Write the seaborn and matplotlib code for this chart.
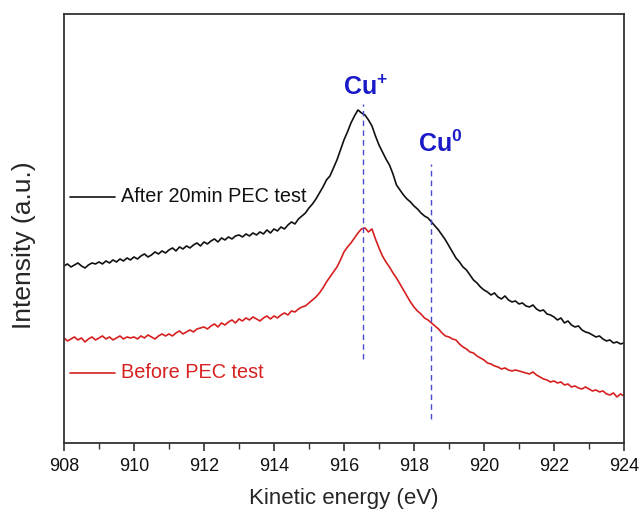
import numpy as np
import pandas as pd
import matplotlib
matplotlib.use("Agg")
import matplotlib.pyplot as plt
import seaborn as sns

# Cu LMM Auger spectra, kinetic energy 908-924 eV in 0.1 eV steps
energy = np.round(np.arange(908.0, 924.01, 0.1), 1)

after_pec = [
    176, 178, 175, 177, 179, 176, 174, 177, 179, 178,   # 908
    180, 178, 181, 179, 182, 180, 183, 181, 184, 182,   # 909
    185, 183, 186, 188, 185, 187, 190, 188, 191, 189,   # 910
    192, 194, 191, 195, 193, 196, 194, 197, 199, 196,   # 911
    200, 198, 201, 203, 200, 204, 202, 205, 203, 206,   # 912
    207, 205, 208, 206, 209, 207, 210, 208, 212, 209,   # 913
    213, 211, 215, 213, 217, 220, 218, 223, 226, 229,   # 914
    234, 238, 243, 249, 255, 262, 266, 274, 282, 292,   # 915
    302, 310, 319, 326, 332, 329, 327, 322, 316, 306,   # 916
    297, 290, 283, 277, 268, 257, 252, 247, 243, 240,   # 917
    236, 233, 229, 226, 224, 220, 216, 212, 207, 202,   # 918
    196, 190, 184, 180, 175, 172, 167, 162, 159, 155,   # 919
    152, 150, 147, 149, 145, 143, 146, 142, 140, 141,   # 920
    138, 139, 136, 135, 137, 133, 131, 132, 128, 127,   # 921
    125, 122, 124, 119, 121, 117, 115, 116, 112, 110,   # 922
    109, 107, 105, 106, 103, 101, 102, 99, 100, 98,     # 923
    99,                                                 # 924
]

before_pec = [
    104, 101, 103, 105, 102, 104, 100, 103, 105, 102,   # 908
    104, 106, 103, 105, 102, 104, 106, 103, 105, 104,   # 909
    105, 103, 106, 104, 107, 105, 103, 106, 108, 106,   # 910
    108, 106, 109, 111, 108, 110, 112, 110, 113, 114,   # 911
    115, 113, 116, 118, 115, 119, 117, 120, 122, 119,   # 912
    123, 121, 124, 122, 125, 123, 121, 124, 126, 123,   # 913
    126, 124, 127, 129, 127, 131, 130, 133, 135, 136,   # 914
    139, 142, 145, 149, 154, 160, 165, 170, 175, 182,   # 915
    190, 195, 199, 204, 209, 213, 214, 210, 213, 203,   # 916
    194, 186, 180, 175, 169, 164, 158, 152, 146, 140,   # 917
    135, 131, 128, 124, 122, 119, 116, 113, 109, 106,   # 918
    105, 103, 102, 98, 95, 93, 90, 89, 86, 84,          # 919
    82, 79, 78, 76, 75, 73, 74, 72, 71, 72,             # 920
    71, 70, 69, 68, 70, 67, 65, 63, 62, 60,             # 921
    61, 59, 60, 57, 58, 55, 56, 54, 53, 55,             # 922
    53, 51, 52, 50, 51, 48, 47, 49, 45, 48,             # 923
    46,                                                 # 924
]

series_labels = ["After 20min PEC test", "Before PEC test"]
series_colors = ["#111111", "#d62020"]

peak_names = [r"$\mathbf{Cu^{+}}$", r"$\mathbf{Cu^{0}}$"]
peak_positions = [916.55, 918.5]

x_ticks = [908, 910, 912, 914, 916, 918, 920, 922, 924]

sns.set_theme(style="ticks")
plt.rcParams["font.family"] = ["Liberation Sans", "DejaVu Sans"]
plt.rcParams["mathtext.fontset"] = "custom"
plt.rcParams["mathtext.rm"] = "Liberation Sans"
plt.rcParams["mathtext.bf"] = "Liberation Sans:bold"

df = pd.concat([
    pd.DataFrame({"energy": energy, "intensity": after_pec, "sample": series_labels[0]}),
    pd.DataFrame({"energy": energy, "intensity": before_pec, "sample": series_labels[1]}),
])

fig = plt.figure(figsize=(6.41, 5.13), dpi=100)
ax = fig.add_axes([0.0998, 0.1365, 0.8736, 0.8363])

sns.lineplot(data=df, x="energy", y="intensity", hue="sample",
             palette=dict(zip(series_labels, series_colors)),
             linewidth=1.2, legend=False, ax=ax)

# dashed markers for the Cu+ and Cu0 positions
line_spans = [(83, 338), (23, 278)]
label_x = [916.63, 918.74]
label_heights = [347, 290]
for name, pos, (lo, hi), lx, yl in zip(peak_names, peak_positions, line_spans,
                                       label_x, label_heights):
    ax.plot([pos, pos], [lo, hi], ls=(0, (4, 3)), color="#4a4ad0", lw=1.0)
    ax.text(lx, yl, name, color="#1a1ac8", fontsize=18,
            ha="center", va="baseline")

# in-plot legend entries
legend_y = [245, 69]
for label, color, yy in zip(series_labels, series_colors, legend_y):
    ax.plot([908.17, 909.45], [yy, yy], color=color, lw=1.2)
    ax.text(909.63, yy, label, color=color, fontsize=14.3, va="center", ha="left")

ax.set_xlim(908, 924)
ax.set_ylim(-1, 428)
ax.set_xticks(x_ticks)
ax.set_xticks(np.arange(909, 924, 2), minor=True)
ax.set_yticks([])
ax.set_xlabel("Kinetic energy (eV)", fontsize=16, labelpad=9)
ax.set_ylabel("Intensity (a.u.)", fontsize=19)
ax.yaxis.set_label_coords(-0.05, 0.46)

for side in ["left", "right", "top", "bottom"]:
    ax.spines[side].set_visible(True)
    ax.spines[side].set_linewidth(1.3)
    ax.spines[side].set_color("#333333")
ax.tick_params(axis="x", which="major", direction="out", length=6, width=1.2,
               labelsize=13, colors="#333333", labelcolor="#111111", pad=5)
ax.tick_params(axis="x", which="minor", direction="out", length=4, width=1.0,
               colors="#333333")

fig.savefig("out.png", dpi=100)
